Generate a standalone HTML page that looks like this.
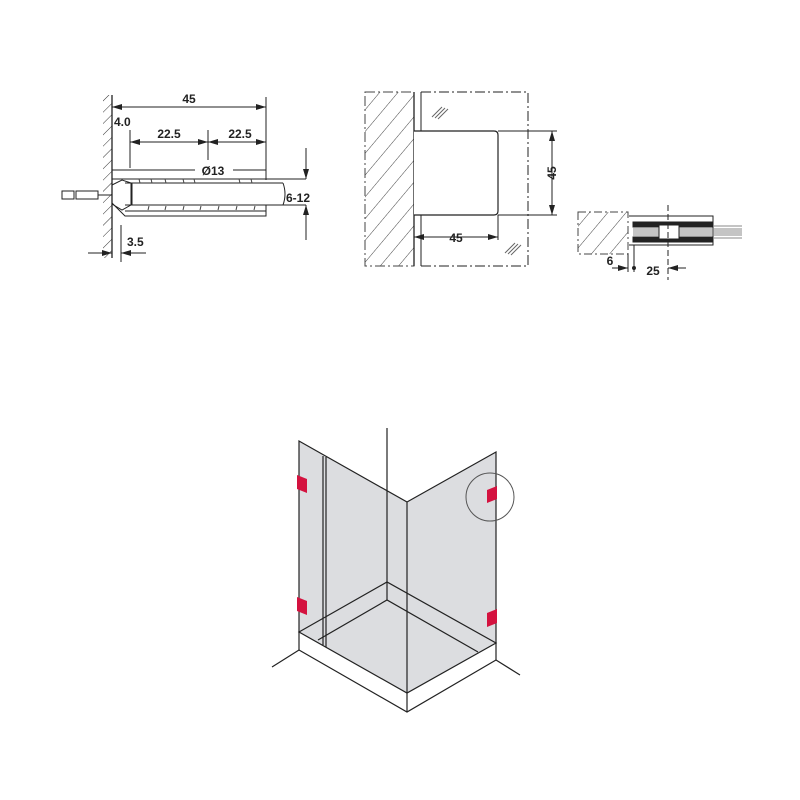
<!DOCTYPE html>
<html><head><meta charset="utf-8"><style>
html,body{margin:0;padding:0;background:#fff}
svg{display:block}
text{font-family:"Liberation Sans",sans-serif;font-weight:bold;font-size:12px;fill:#222}
</style></head><body>
<svg width="800" height="800" viewBox="0 0 800 800" xmlns="http://www.w3.org/2000/svg">
<defs>
<pattern id="h" width="8" height="8" patternUnits="userSpaceOnUse" patternTransform="rotate(45)">
<line x1="0" y1="0" x2="0" y2="8" stroke="#333" stroke-width="1"/></pattern>
<pattern id="h2" width="14" height="14" patternUnits="userSpaceOnUse" patternTransform="rotate(40)">
<line x1="0" y1="0" x2="0" y2="14" stroke="#444" stroke-width="1"/></pattern>
<marker id="a" viewBox="0 0 10 6" refX="10" refY="3" markerWidth="10" markerHeight="6" orient="auto-start-reverse"><path d="M0,0L10,3L0,6z" fill="#222"/></marker>
</defs>
<g stroke="#222" fill="none" stroke-width="1">
<!-- LEFT drawing -->
<rect x="103" y="95" width="9" height="163" fill="url(#h)" stroke="none"/>
<line x1="112" y1="95" x2="112" y2="258" stroke-width="1.3"/>
<line x1="266" y1="97" x2="266" y2="180"/>
<line x1="112" y1="107" x2="266" y2="107" marker-start="url(#a)" marker-end="url(#a)"/>
<line x1="130" y1="130" x2="130" y2="168"/>
<line x1="208" y1="130" x2="208" y2="160"/>
<line x1="130" y1="142" x2="208" y2="142" marker-start="url(#a)" marker-end="url(#a)"/>
<line x1="208" y1="142" x2="266" y2="142" marker-start="url(#a)" marker-end="url(#a)"/>
<line x1="112" y1="170" x2="195" y2="170"/><line x1="233" y1="170" x2="266" y2="170"/>
<line x1="112" y1="179" x2="266" y2="179"/>
<line x1="125" y1="183" x2="283" y2="183"/>
<line x1="125" y1="205" x2="283" y2="205"/>
<path d="M283,183 Q287,194 283,205"/>
<line x1="132" y1="183" x2="132" y2="205"/>
<path d="M112,185 L122,180 L131,183 L131,205 L122,210 L112,204"/>
<path d="M112,203 L125,216 L266,216 L266,205"/>
<path d="M125,211 L266,211"/>
<path d="M140,183 l-1,-4 M152,183 l-1,-4 M166,183 l-1,-4 M184,183 l-1,-4 M195,183 l-1,-4 M240,183 l-1,-4 M252,183 l-1,-4 M148,210 l1,-4 M165,210 l1,-4 M183,210 l1,-4 M200,210 l1,-4 M218,210 l1,-4 M236,210 l1,-4 M254,210 l1,-4" stroke="#444"/>
<path d="M62,191 h12 v8 h-12 z M76,191 h22 v8 h-22 z M98,195 h14"/>
<line x1="266" y1="179" x2="306" y2="179"/><line x1="266" y1="205" x2="306" y2="205"/>
<line x1="306" y1="148" x2="306" y2="179" marker-end="url(#a)"/>
<line x1="306" y1="240" x2="306" y2="205" marker-end="url(#a)"/>
<line x1="121" y1="225" x2="121" y2="262"/>
<line x1="88" y1="253" x2="112" y2="253" marker-end="url(#a)"/>
<line x1="146" y1="253" x2="121" y2="253" marker-end="url(#a)"/>
<!-- MIDDLE -->
<rect x="365" y="92" width="49" height="174" fill="url(#h2)" stroke="#444" stroke-dasharray="10,3,2,3"/>
<line x1="414" y1="92" x2="414" y2="266" stroke-width="1.3"/>
<path d="M421,92 H528 V266 H421" stroke-dasharray="10,3,2,3"/>
<line x1="421" y1="92" x2="421" y2="131"/><line x1="421" y1="215" x2="421" y2="266"/>
<path d="M414,131 H494 Q498,131 498,135 V211 Q498,215 494,215 H414" stroke-width="1.2" fill="#fff"/>
<line x1="498" y1="131" x2="557" y2="131"/><line x1="498" y1="215" x2="557" y2="215"/>
<line x1="552" y1="131" x2="552" y2="215" marker-start="url(#a)" marker-end="url(#a)"/>
<line x1="498" y1="215" x2="498" y2="240"/>
<line x1="414" y1="237" x2="498" y2="237" marker-start="url(#a)" marker-end="url(#a)"/>
<path d="M432,117 l10,-10 M435,118 l10,-10 M438,119 l10,-10 M505,253 l10,-10 M508,254 l10,-10 M511,255 l10,-10" stroke="#666"/>
<!-- RIGHT -->
<rect x="578" y="212" width="50" height="42" fill="url(#h2)" stroke="#444" stroke-dasharray="8,3,2,3"/>
<path d="M629,216 H713 V245 H629" stroke-width="1"/>
<rect x="633" y="222" width="80" height="5" fill="#222"/>
<rect x="633" y="237" width="80" height="5" fill="#222"/>
<path d="M633,229 H742 M633,231 H742 M633,233 H742 M633,235 H742 M713,226 H742 M713,238 H742" stroke="#888"/>
<rect x="659" y="225" width="20" height="14" fill="#fff"/>
<line x1="668" y1="205" x2="668" y2="280" stroke-dasharray="6,3"/>
<line x1="628" y1="254" x2="628" y2="272"/><line x1="634" y1="245" x2="634" y2="272"/>
<line x1="612" y1="268" x2="628" y2="268" marker-end="url(#a)"/>
<line x1="686" y1="268" x2="668" y2="268" marker-end="url(#a)"/>
<circle cx="634" cy="268" r="1.5" fill="#222"/>
<!-- SHOWER -->
<polygon points="299,441 407,502 407,693 299,632" fill="#dcdde0" stroke="none"/>
<polygon points="407,502 496,452 496,643 407,693" fill="#dcdde0" stroke="none"/>
<polygon points="299,632 407,712 407,693" fill="#fff" stroke="none"/>
<polygon points="299,632 407,693 407,712 299,650" fill="#fff" stroke="none"/>
<polygon points="407,693 496,643 496,660 407,712" fill="#fff" stroke="none"/>
<g stroke-width="1.2">
<path d="M299,650 V441 L407,502 V712 M407,502 L496,452 V660"/>
<line x1="387" y1="428" x2="387" y2="582"/>
<line x1="323" y1="456" x2="323" y2="645"/><line x1="326" y1="457" x2="326" y2="647"/>
<path d="M299,632 L387,582 L496,643 L407,693 Z"/>
<path d="M318,640 L387,600 L478,652"/><line x1="387" y1="582" x2="387" y2="600"/>
<path d="M299,650 L407,712 L496,660"/>
<path d="M272,667 L299,650 M496,660 L520,675"/>
</g>
<circle cx="490" cy="497" r="24" stroke="#555"/>
</g>
<g fill="#d4123f">
<polygon points="297,475 307,479 307,493 297,489"/>
<polygon points="297,597 307,601 307,615 297,611"/>
<polygon points="487,490 497,486 497,499 487,503"/>
<polygon points="487,613 497,609 497,623 487,627"/>
</g>
<text x="189" y="103" text-anchor="middle">45</text>
<text x="114" y="126">4.0</text>
<text x="169" y="138" text-anchor="middle">22.5</text>
<text x="240" y="138" text-anchor="middle">22.5</text>
<text x="213" y="175" text-anchor="middle">Ø13</text>
<text x="286" y="202">6-12</text>
<text x="127" y="246">3.5</text>
<text x="456" y="242" text-anchor="middle">45</text>
<text x="0" y="0" text-anchor="middle" transform="translate(556,173) rotate(-90)">45</text>
<text x="610" y="265" text-anchor="middle">6</text>
<text x="653" y="275" text-anchor="middle">25</text>
</svg>
</body></html>
